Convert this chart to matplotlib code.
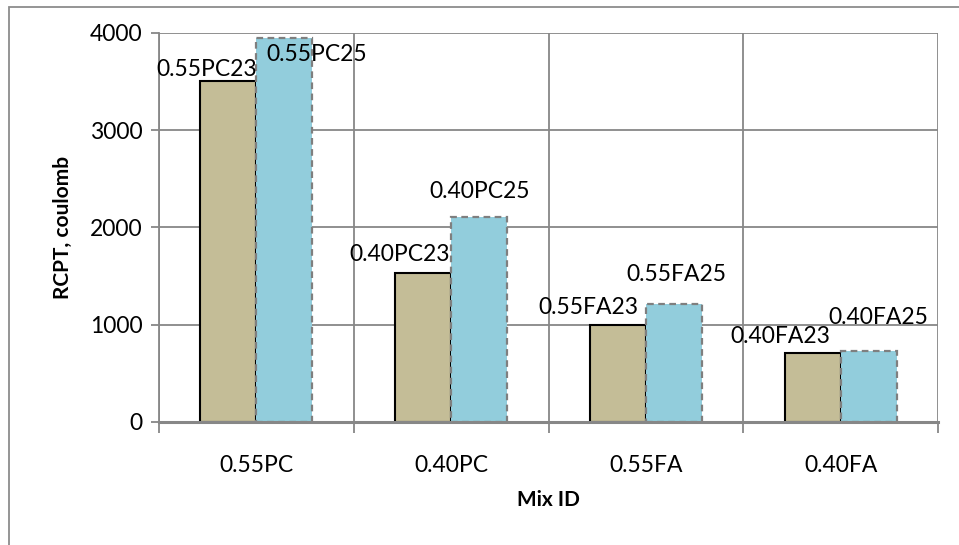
import matplotlib
matplotlib.use("Agg")
import matplotlib.pyplot as plt
from matplotlib.patches import Rectangle
import numpy as np

categories = ["0.55PC", "0.40PC", "0.55FA", "0.40FA"]
labels_23 = ["0.55PC23", "0.40PC23", "0.55FA23", "0.40FA23"]
labels_25 = ["0.55PC25", "0.40PC25", "0.55FA25", "0.40FA25"]
values_23 = [3500, 1535, 1000, 710]
values_25 = [3950, 2110, 1210, 733]
yticks = [0, 1000, 2000, 3000, 4000]

# label offsets (pixels) relative to bar top-center, as placed in the original
off_23 = [(-22, 12), (-23, 18), (-29, 17), (-32, 16)]
off_25 = [(32, -17), (0, 25), (2, 30), (10, 33)]

plt.rcParams['font.family'] = ['Lato', 'DejaVu Sans']
FS = 16.5

W, H = 959, 545
fig = plt.figure(figsize=(W / 100, H / 100), dpi=100)
ax = fig.add_axes([159 / W, 1 - 422 / H, (938 - 159) / W, (422 - 32.7) / H])

x = np.arange(len(categories))
bw = 0.288
grid_c = "#878787"

b1 = ax.bar(x - bw / 2, values_23, bw, color="#C4BD97", edgecolor="black", linewidth=1.5, zorder=3)
b2 = ax.bar(x + bw / 2, values_25, bw, color="#92CDDC", edgecolor="#7F7F7F", linewidth=1.6,
            linestyle=(0, (3, 2)), zorder=3)

for i in range(len(categories)):
    ax.annotate(labels_23[i], (x[i] - bw / 2, values_23[i]), xytext=off_23[i], textcoords="offset pixels",
                ha="center", va="center", fontsize=FS, zorder=5)
    ax.annotate(labels_25[i], (x[i] + bw / 2, values_25[i]), xytext=off_25[i], textcoords="offset pixels",
                ha="center", va="center", fontsize=FS, zorder=5)

ax.set_xlim(-0.5, len(categories) - 0.5)
ax.set_ylim(0, 4000)
ax.set_yticks(yticks)
ax.set_yticklabels([str(v) for v in yticks], fontsize=FS)
ax.set_xticks(x)
ax.set_xticklabels(categories, fontsize=FS)
ax.tick_params(axis="x", length=0, pad=24)
ax.tick_params(axis="y", length=6, width=1.3, color=grid_c, pad=6)

# category boundary ticks and vertical gridlines
bounds = np.arange(len(categories) + 1) - 0.5
ax.set_xticks(bounds, minor=True)
ax.tick_params(axis="x", which="minor", length=8, width=1.3, color=grid_c)
ax.xaxis.grid(True, which="minor", color=grid_c, linewidth=1.3, zorder=0)
ax.yaxis.grid(True, color=grid_c, linewidth=1.3, zorder=0)
ax.set_axisbelow(True)

for s in ["top", "right"]:
    ax.spines[s].set_visible(False)
ax.spines["left"].set_color(grid_c)
ax.spines["left"].set_linewidth(1.3)
ax.spines["bottom"].set_color(grid_c)
ax.spines["bottom"].set_linewidth(2.2)
ax.spines["bottom"].set_zorder(4)

ax.set_xlabel("Mix ID", fontsize=FS - 1.5, fontweight="bold", labelpad=10)
ax.set_ylabel("RCPT, coulomb", fontsize=FS - 1.5, fontweight="bold", labelpad=12)

# outer chart border
fig.patches.append(Rectangle((9 / W, -0.1), 1.2, 1.1 - 7 / H, transform=fig.transFigure,
                             fill=False, edgecolor="#8C8C8C", linewidth=1.3))

fig.savefig("out.png", dpi=100)
